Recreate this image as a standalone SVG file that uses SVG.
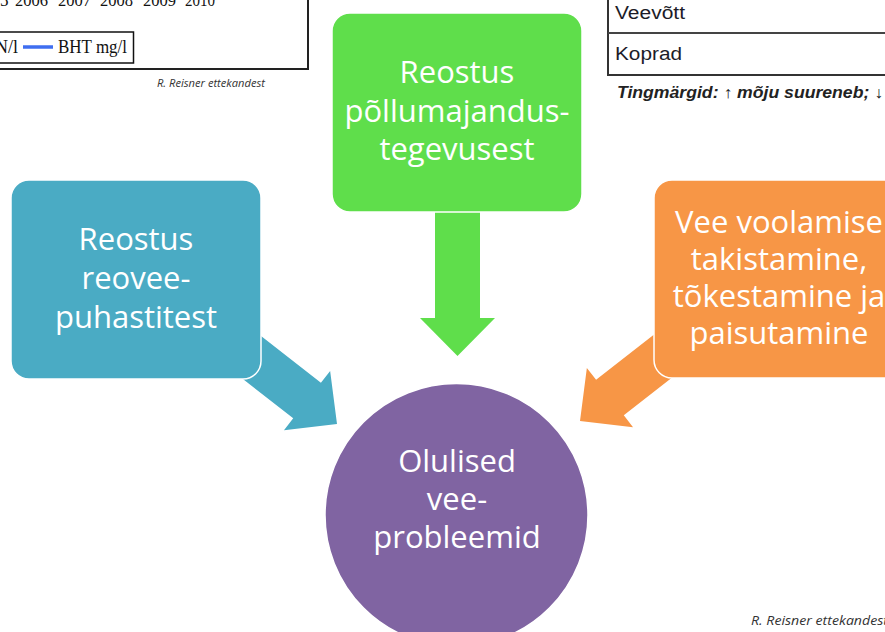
<svg xmlns="http://www.w3.org/2000/svg" width="885" height="632" viewBox="0 0 885 632">
<style>
.lbl{font-family:"Open Sans","Liberation Sans",sans-serif;font-size:31px;fill:#fff;text-anchor:middle}
.tm{font-family:"Liberation Serif",serif;font-size:17px;fill:#111}
.src{font-family:"Open Sans","Liberation Sans",sans-serif;font-style:italic;fill:#333}
.tbl{font-family:"Liberation Sans",sans-serif;font-size:18px;fill:#1c1c28}
.box{stroke:#fff;stroke-width:1.5}
</style>
<rect width="885" height="632" fill="#fff"/>
<g id="chart-fragment">
<rect x="-10" y="-10" width="318" height="79" fill="none" stroke="#222" stroke-width="2"/>
<text class="tm" x="0" y="6">5</text>
<text class="tm" x="15" y="6" textLength="33" lengthAdjust="spacingAndGlyphs">2006</text>
<text class="tm" x="58" y="6" textLength="33" lengthAdjust="spacingAndGlyphs">2007</text>
<text class="tm" x="100" y="6" textLength="33" lengthAdjust="spacingAndGlyphs">2008</text>
<text class="tm" x="143" y="6" textLength="33" lengthAdjust="spacingAndGlyphs">2009</text>
<text class="tm" x="185" y="6" textLength="30" lengthAdjust="spacingAndGlyphs">2010</text>
<rect x="-10" y="32" width="143.5" height="31" fill="#fff" stroke="#111" stroke-width="1.5"/>
<text class="tm" x="-5" y="53" style="font-size:18px">N/l</text>
<line x1="23" y1="47" x2="53" y2="47" stroke="#3f6ef0" stroke-width="3.5"/>
<text class="tm" x="58" y="53" style="font-size:18px" textLength="69" lengthAdjust="spacingAndGlyphs">BHT mg/l</text>
</g>
<text class="src" x="157" y="87" style="font-size:10.5px" textLength="108" lengthAdjust="spacingAndGlyphs">R. Reisner ettekandest</text>
<g id="table-fragment">
<line x1="608" y1="-5" x2="608" y2="76" stroke="#333" stroke-width="2"/>
<line x1="608" y1="33" x2="890" y2="33" stroke="#444" stroke-width="2"/>
<line x1="607" y1="75" x2="890" y2="75" stroke="#333" stroke-width="2"/>
<text class="tbl" x="615" y="19" textLength="70" lengthAdjust="spacingAndGlyphs">Veevõtt</text>
<text class="tbl" x="615" y="60" textLength="67" lengthAdjust="spacingAndGlyphs">Koprad</text>
<text x="617" y="98" style="font-family:'Liberation Sans',sans-serif;font-style:italic;font-weight:bold;font-size:16px;fill:#222" textLength="266" lengthAdjust="spacingAndGlyphs">Tingmärgid: ↑ mõju suureneb; ↓</text>
</g>
<g id="connectors">
<polygon fill="#4aabc4" transform="translate(337,424) rotate(38)" points="0,0 -38,-37.5 -38,-22.5 -125,-22.5 -125,22.5 -38,22.5 -38,37.5"/>
<polygon fill="#5fde4b" points="457.5,356 420,318 435,318 435,205 480,205 480,318 495,318"/>
<polygon fill="#f79646" transform="translate(580,421) scale(-1,1) rotate(38)" points="0,0 -38,-37.5 -38,-22.5 -125,-22.5 -125,22.5 -38,22.5 -38,37.5"/>
</g>
<g id="node-reovee">
<rect class="box" x="11" y="180" width="250" height="199" rx="18" fill="#4aabc4"/>
<text class="lbl" x="136" y="250">Reostus</text>
<text class="lbl" x="136" y="289">reovee-</text>
<text class="lbl" x="136" y="328">puhastitest</text>
</g>
<g id="node-pollumajandus">
<rect class="box" x="332" y="13" width="250" height="199" rx="18" fill="#5fde4b"/>
<text class="lbl" x="457" y="83">Reostus</text>
<text class="lbl" x="457" y="122">põllumajandus-</text>
<text class="lbl" x="457" y="160">tegevusest</text>
</g>
<g id="node-voolamine">
<rect class="box" x="654" y="180" width="250" height="198" rx="18" fill="#f79646"/>
<text class="lbl" x="779" y="233">Vee voolamise</text>
<text class="lbl" x="779" y="270">takistamine,</text>
<text class="lbl" x="779" y="307">tõkestamine ja</text>
<text class="lbl" x="779" y="344">paisutamine</text>
</g>
<g id="node-probleemid">
<circle class="box" cx="456.5" cy="515" r="131.5" fill="#8064a2"/>
<text class="lbl" x="457" y="472">Olulised</text>
<text class="lbl" x="457" y="510">vee-</text>
<text class="lbl" x="457" y="548">probleemid</text>
</g>
<text class="src" x="751" y="625" style="font-size:13px" textLength="137" lengthAdjust="spacingAndGlyphs">R. Reisner ettekandest</text>
</svg>
